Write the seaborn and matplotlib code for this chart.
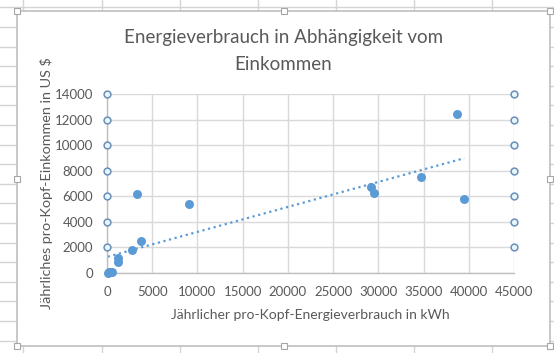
import numpy as np
import pandas as pd
import matplotlib
matplotlib.use("Agg")
import matplotlib.pyplot as plt
from matplotlib.patches import Rectangle
from matplotlib.lines import Line2D
import seaborn as sns

# ---- data ----
energy_kwh = [80, 200, 350, 520, 1250, 1250, 2760, 3280, 3760, 9100,
              29230, 29520, 34690, 38670, 39510]
income_usd = [30, 50, 40, 70, 1150, 885, 1800, 6200, 2500, 5400,
              6750, 6280, 7530, 12400, 5760]
y_ticks = [0, 2000, 4000, 6000, 8000, 10000, 12000, 14000]
x_ticks = [0, 5000, 10000, 15000, 20000, 25000, 30000, 35000, 40000, 45000]
handle_y = [2000, 4000, 6000, 8000, 10000, 12000, 14000]

title_lines = ["Energieverbrauch in Abhängigkeit vom", "Einkommen"]
xlabel = "Jährlicher pro-Kopf-Energieverbrauch in kWh"
ylabel = "Jährliches pro-Kopf-Einkommen in US $"

df = pd.DataFrame({"x": energy_kwh, "y": income_usd})

sns.set_theme(style="white")
plt.rcParams['font.family'] = ['Lato', 'DejaVu Sans']

W, H = 554, 353
fig = plt.figure(figsize=(W / 100, H / 100), dpi=100)
fig.patch.set_facecolor("white")

# Excel sheet gridlines behind the chart
sheet_col = "#D4D4D4"
for px in [23, 102, 180, 258, 336, 414, 492]:
    fig.add_artist(Line2D([px / W, px / W], [0, 1], color=sheet_col, lw=1, zorder=0))
for py in np.arange(321 - 19.6 * 17, 353, 19.6):
    fig.add_artist(Line2D([0, 1], [1 - py / H, 1 - py / H], color=sheet_col, lw=1, zorder=0))

# chart frame
fx0, fy0, fx1, fy1 = 17, 11, 550, 346
fig.add_artist(Rectangle((fx0 / W, 1 - fy1 / H), (fx1 - fx0) / W, (fy1 - fy0) / H,
                         facecolor="white", edgecolor="#BFBFBF", lw=1.2, zorder=1))
hx = [fx0, (fx0 + fx1) / 2, fx1]
hy = [fy0, (fy0 + fy1) / 2, fy1]
for a in hx:
    for b in hy:
        if a == hx[1] and b == hy[1]:
            continue
        fig.add_artist(Rectangle((a / W - 3 / W, 1 - b / H - 3 / H), 6 / W, 6 / H,
                                 facecolor="white", edgecolor="#A6A6A6", lw=0.8, zorder=2))

ax = fig.add_axes([107 / W, 1 - 273 / H, (514 - 107) / W, (273 - 94) / H], zorder=3)
ax.set_facecolor("none")

blue = "#5B9BD5"
text_col = "#595959"
grid_col = "#D9D9D9"

sns.regplot(data=df, x="x", y="y", ax=ax, scatter=False, ci=None, truncate=True,
            line_kws=dict(color=blue, lw=1.6, linestyle=(0, (1, 1.6))))
sns.scatterplot(data=df, x="x", y="y", ax=ax, color=blue, s=42, edgecolor=blue,
                linewidth=0, zorder=4, clip_on=False)

# selection handles on the gridlines
hdf = pd.DataFrame({"y": handle_y * 2,
                    "x": [x_ticks[0]] * len(handle_y) + [x_ticks[-1]] * len(handle_y)})
sns.scatterplot(data=hdf, x="x", y="y", ax=ax, s=24, color="#E6F6FA",
                edgecolor="#6A8FB8", linewidth=1.1, zorder=5, clip_on=False)

ax.set_xlim(x_ticks[0], x_ticks[-1])
ax.set_ylim(y_ticks[0], y_ticks[-1])
ax.set_xticks(x_ticks)
ax.set_yticks(y_ticks)
ax.set_xticklabels([str(v) for v in x_ticks])
ax.set_yticklabels([str(v) for v in y_ticks])
ax.grid(True, color=grid_col, lw=1)
ax.set_axisbelow(True)
for s in ["top", "right"]:
    ax.spines[s].set_visible(False)
for s in ["left", "bottom"]:
    ax.spines[s].set_color("#BFBFBF")
    ax.spines[s].set_linewidth(1)
ax.tick_params(length=0, labelsize=9.5, labelcolor=text_col)
ax.tick_params(axis="x", pad=9)
ax.tick_params(axis="y", pad=10)

ax.set_xlabel(xlabel, fontsize=10, color=text_col)
ax.set_ylabel(ylabel, fontsize=10.4, color=text_col)
ax.xaxis.set_label_coords(0.5, -(315 - 273) / (273 - 94), transform=ax.transAxes)
ax.xaxis.label.set_va("center")
ax.yaxis.set_label_coords(-(107 - 47) / (514 - 107), 0.5 + (183.5 - 183.5) / 179)
ax.yaxis.label.set_va("center")

cx = ((fx0 + fx1) / 2) / W
for line, py in zip(title_lines, [38, 64]):
    fig.text(cx, 1 - py / H, line, ha="center", va="center",
             fontsize=13.5, color=text_col, zorder=4)

fig.savefig("out.png", dpi=100)
